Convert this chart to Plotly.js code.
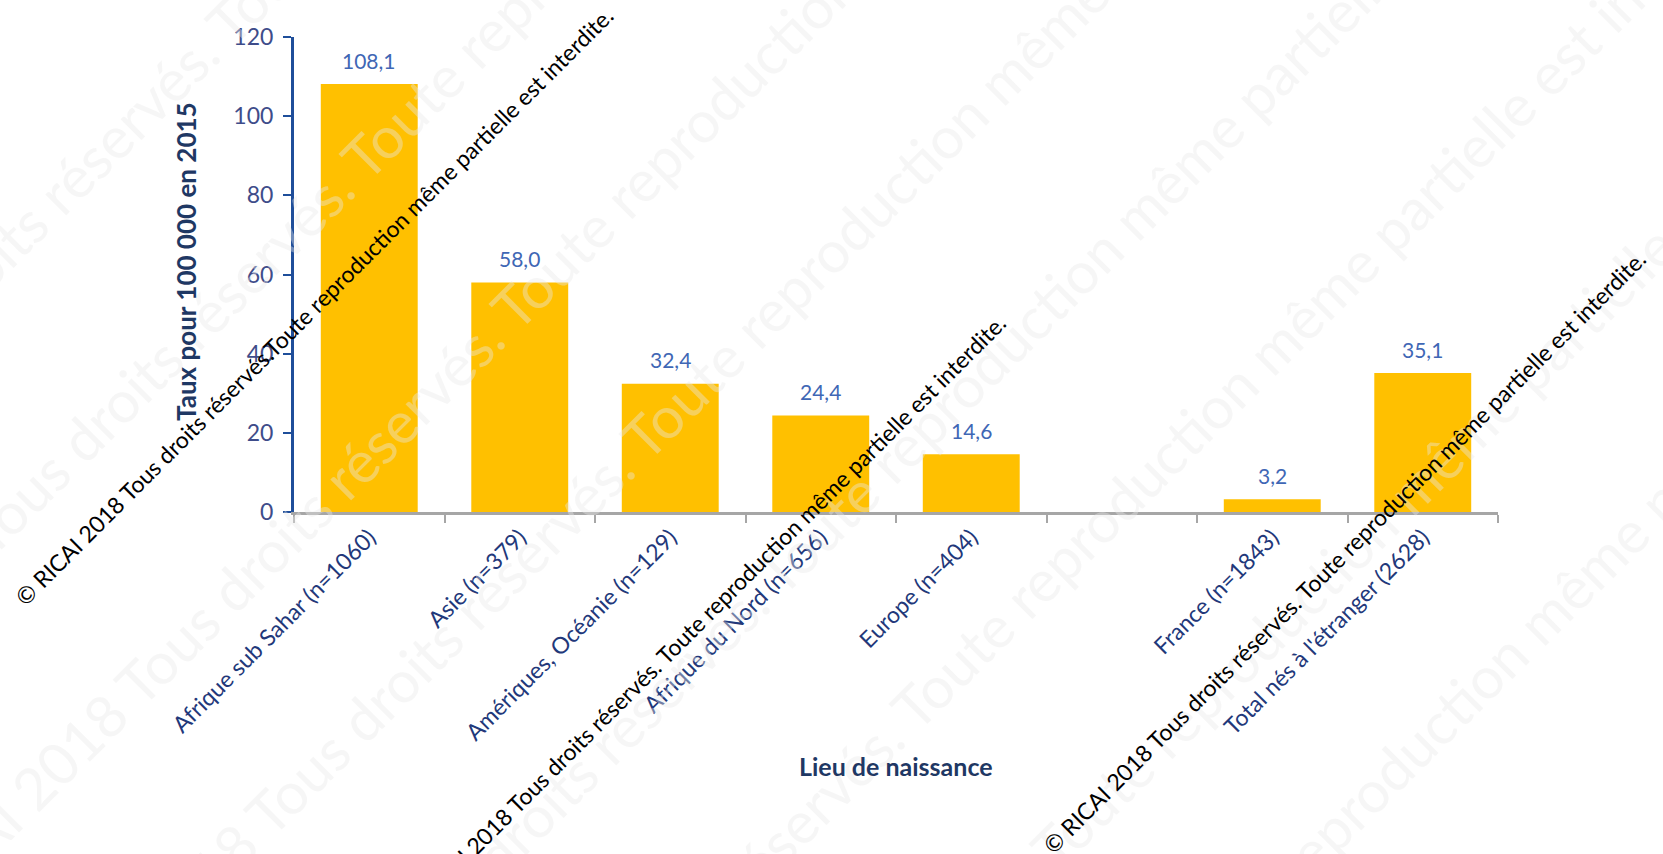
<!DOCTYPE html>
<html>
<head>
<meta charset="utf-8">
<script src="https://cdn.plot.ly/plotly-3.0.1.min.js"></script>
<style>
  html, body { margin: 0; padding: 0; background: #ffffff; }
  #chart { width: 1663px; height: 854px; }
</style>
</head>
<body>
<div id="chart"></div>
<script>
// ---- data ----
const categories = [
  "Afrique sub Sahar (n=1060)",
  "Asie (n=379)",
  "Amériques, Océanie (n=129)",
  "Afrique du Nord (n=656)",
  "Europe (n=404)",
  " ",
  "France (n=1843)",
  "Total nés à l'étranger (2628)"
];
const rates = [108.1, 58.0, 32.4, 24.4, 14.6, null, 3.2, 35.1];
const yTickValues = [0, 20, 40, 60, 80, 100, 120];
const xTitle = "Lieu de naissance";
const yTitle = "Taux pour 100 000 en 2015";
const watermark1 = "© RICAI 2018 Tous droits réservés.Toute reproduction même partielle est interdite.";
const watermark = "© RICAI 2018 Tous droits réservés. Toute reproduction même partielle est interdite.";

// ---- layout geometry ----
const W = 1663, H = 854;
const M = { l: 294, r: 165, t: 37, b: 342 };
const PW = W - M.l - M.r, PH = H - M.t - M.b;
const px = x => (x - M.l) / PW;
const py = y => (H - M.b - y) / PH;

const FONT = "Lato, 'Open Sans', sans-serif";

const annotations = [];

// faint background watermark lines (tilted)
const faintLines = [250, 520, 820, 1080, 1350, 1620, 1900, 2160];
faintLines.forEach(c => {
  const d = (c - (W / 2 + H / 2)) / 2;
  annotations.push({
    xref: "paper", yref: "paper",
    x: px(W / 2 + d), y: py(H / 2 + d),
    text: watermark, showarrow: false, textangle: -45,
    font: { family: FONT, size: 58, color: "rgba(232,232,232,0.4)" },
    xanchor: "center", yanchor: "middle"
  });
});

// data labels
categories.forEach((c, i) => {
  if (rates[i] === null) return;
  annotations.push({
    x: c, y: rates[i], xref: "x", yref: "y",
    text: rates[i].toFixed(1).replace(".", ","),
    showarrow: false, yshift: 24,
    font: { family: FONT, size: 21, color: "#3F67B5" },
    xanchor: "center", yanchor: "middle"
  });
});

// axis titles
annotations.push({
  xref: "paper", yref: "paper", x: px(186), y: py(262),
  text: "<b>" + yTitle + "</b>", showarrow: false, textangle: -90,
  font: { family: FONT, size: 26, color: "#1F3864" },
  xanchor: "center", yanchor: "middle"
});
annotations.push({
  xref: "paper", yref: "paper", x: px(896), y: py(766),
  text: "<b>" + xTitle + "</b>", showarrow: false,
  font: { family: FONT, size: 25, color: "#1F3864" },
  xanchor: "center", yanchor: "middle"
});

// black tilted watermarks
[
  { t: watermark1, cx: 314, cy: 306 },
  { t: watermark, cx: 704, cy: 616 },
  { t: watermark, cx: 1344, cy: 552 }
].forEach(w => {
  annotations.push({
    xref: "paper", yref: "paper", x: px(w.cx), y: py(w.cy),
    text: w.t, showarrow: false, textangle: -45,
    font: { family: FONT, size: 23, color: "#000000" },
    xanchor: "center", yanchor: "middle"
  });
});

const trace = {
  type: "bar",
  x: categories,
  y: rates,
  marker: { color: "#FFC000", line: { width: 0 } },
  hoverinfo: "skip"
};

const layout = {
  width: W, height: H,
  margin: M,
  paper_bgcolor: "#ffffff",
  plot_bgcolor: "rgba(0,0,0,0)",
  showlegend: false,
  bargap: 0.356,
  font: { family: FONT },
  xaxis: {
    type: "category",
    categoryorder: "array",
    categoryarray: categories,
    tickson: "boundaries",
    ticks: "outside", ticklen: 8, tickwidth: 2, tickcolor: "#A6A6A6",
    showline: true, linecolor: "#A6A6A6", linewidth: 3,
    showgrid: false, zeroline: false,
    tickangle: -45,
    tickfont: { family: FONT, size: 23, color: "#22387A" },
    fixedrange: true
  },
  yaxis: {
    range: [0, 120],
    tickvals: yTickValues,
    ticks: "outside", ticklen: 8, tickwidth: 2, tickcolor: "#1F4E9A",
    showline: true, linecolor: "#1F4E9A", linewidth: 3,
    showgrid: false, zeroline: false,
    ticklabelstandoff: 5,
    tickfont: { family: FONT, size: 23, color: "#3E4C8A" },
    fixedrange: true
  },
  annotations: annotations
};

Plotly.newPlot("chart", [trace], layout, { displayModeBar: false, staticPlot: true });
</script>
</body>
</html>
